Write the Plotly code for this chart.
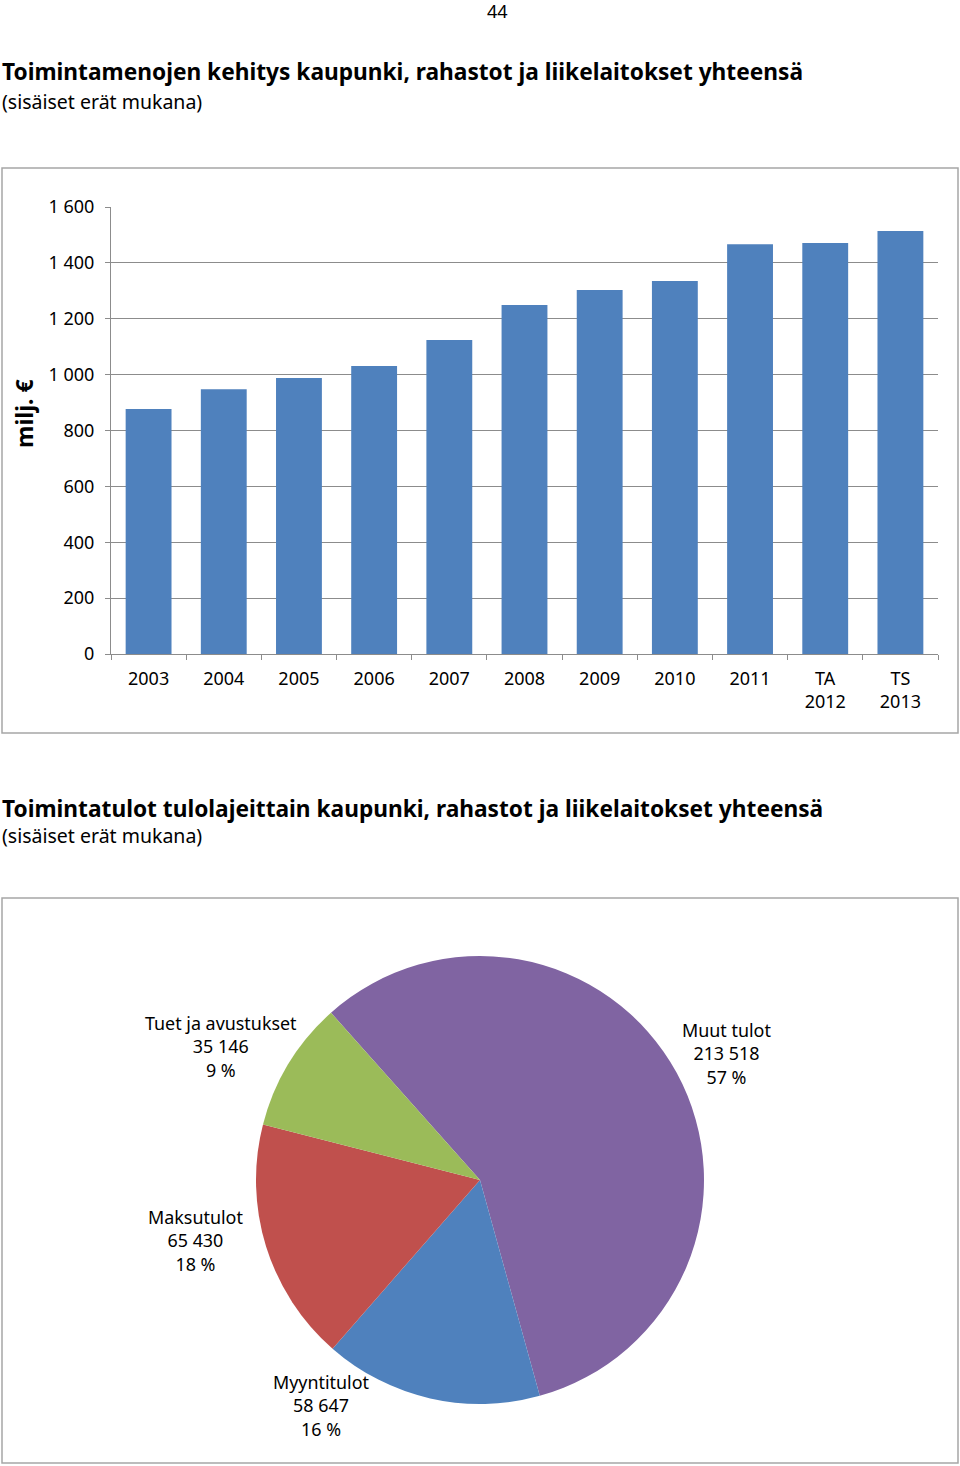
import plotly.graph_objects as go

# ---- data ----
years = ["2003", "2004", "2005", "2006", "2007", "2008", "2009", "2010", "2011", "TA<br>2012", "TS<br>2013"]
costs = [877, 948, 988, 1031, 1124, 1249, 1303, 1335, 1467, 1471, 1514]

income_labels = ["Muut tulot", "Myyntitulot", "Maksutulot", "Tuet ja avustukset"]
income_values = [213518, 58647, 65430, 35146]

page_number = "44"
title1 = "Toimintamenojen kehitys kaupunki, rahastot ja liikelaitokset yhteensä"
title2 = "Toimintatulot tulolajeittain kaupunki, rahastot ja liikelaitokset yhteensä"
subtitle = "(sisäiset erät mukana)"
y_title = "milj. €"

# ---- styles ----
W, H = 960, 1466
FONT = "Noto Sans, DejaVu Sans, sans-serif"
BAR_COLOR = "#4F81BD"
PIE_COLORS = ["#8064A2", "#4F81BD", "#C0504D", "#9BBB59"]
GRID = "#8C8C8C"
BOX = "#A6A6A6"


def px(x):
    return x / W


def py(y):
    return 1 - y / H


fig = go.Figure()

fig.add_trace(go.Bar(
    x=years, y=costs, marker=dict(color=BAR_COLOR, line=dict(width=0)),
    xaxis="x", yaxis="y", hoverinfo="x+y",
))

PR = 224
fig.add_trace(go.Pie(
    labels=income_labels, values=income_values, sort=False, direction="clockwise",
    rotation=-41.7, marker=dict(colors=PIE_COLORS, line=dict(width=0)),
    textinfo="none", showlegend=False,
    domain=dict(x=[px(480 - PR), px(480 + PR)], y=[py(1180 + PR), py(1180 - PR)]),
))

fig.update_layout(
    width=W, height=H, margin=dict(l=0, r=0, t=0, b=0, autoexpand=False),
    paper_bgcolor="white", plot_bgcolor="white",
    showlegend=False, bargap=0.39, separators=", ",
    font=dict(family=FONT, color="#000000", size=18),
    xaxis=dict(
        domain=[px(111), px(938)], anchor="y", automargin=False,
        showline=True, linecolor=GRID, linewidth=1,
        ticks="outside", ticklen=5, tickcolor=GRID, tickson="boundaries",
        tickfont=dict(size=18, family=FONT), showgrid=False, ticklabelstandoff=8,
    ),
    yaxis=dict(
        domain=[py(654), py(207)], anchor="x", range=[0, 1600], dtick=200, automargin=False,
        showline=True, linecolor=GRID, linewidth=1,
        showgrid=True, gridcolor=GRID, gridwidth=1, zeroline=False,
        ticks="outside", ticklen=5, tickcolor=GRID,
        separatethousands=True, tickformat=",d",
        tickfont=dict(size=18, family=FONT), ticklabelstandoff=7,
    ),
)

shapes = [
    dict(type="rect", xref="paper", yref="paper", x0=px(2), x1=px(958), y0=py(733), y1=py(168),
         line=dict(color=BOX, width=1.5)),
    dict(type="rect", xref="paper", yref="paper", x0=px(2), x1=px(958), y0=py(1463), y1=py(898),
         line=dict(color=BOX, width=1.5)),
]
fig.update_layout(shapes=shapes)


def title_block(t):
    return (f"<span style='font-size:22.7px'><b>{t}</b></span><br>"
            f"<span style='font-size:19.5px'>{subtitle}</span>")


ann = []
ann.append(dict(text=page_number, x=px(497), y=py(11), xanchor="center", yanchor="middle",
                font=dict(size=18)))
ann.append(dict(text=title_block(title1), x=px(0), y=py(85), xanchor="left", yanchor="middle",
                align="left", font=dict(size=22)))
ann.append(dict(text=title_block(title2), x=px(0), y=py(821), xanchor="left", yanchor="middle",
                align="left", font=dict(size=20)))
ann.append(dict(text="<b>" + y_title + "</b>", x=px(24), y=py(414), xanchor="center", yanchor="middle",
                textangle=-90, font=dict(size=23)))

total = sum(income_values)
label_pos = {
    "Muut tulot": (726, 1053),
    "Myyntitulot": (321, 1405),
    "Maksutulot": (195, 1240),
    "Tuet ja avustukset": (221, 1046),
}
for lab, val in zip(income_labels, income_values):
    pct = round(val / total * 100)
    txt = f"{lab}<br>{val:,}".replace(",", " ") + f"<br>{pct} %"
    x, y = label_pos[lab]
    ann.append(dict(text=txt, x=px(x), y=py(y), xanchor="center", yanchor="middle",
                    font=dict(size=17.9)))

for a in ann:
    a.update(xref="paper", yref="paper", showarrow=False)
fig.update_layout(annotations=ann)

fig.write_html(
    "out.html",
    config={"displayModeBar": False},
    post_script=(
        "var gd=document.getElementById('{plot_id}');"
        "gd.style.position='fixed';gd.style.top='0px';gd.style.left='0px';"
        "document.body.style.margin='0';document.body.style.padding='0';"
        "document.body.style.overflow='hidden';"
        "document.documentElement.style.margin='0';document.documentElement.style.overflow='hidden';"
    ),
)
